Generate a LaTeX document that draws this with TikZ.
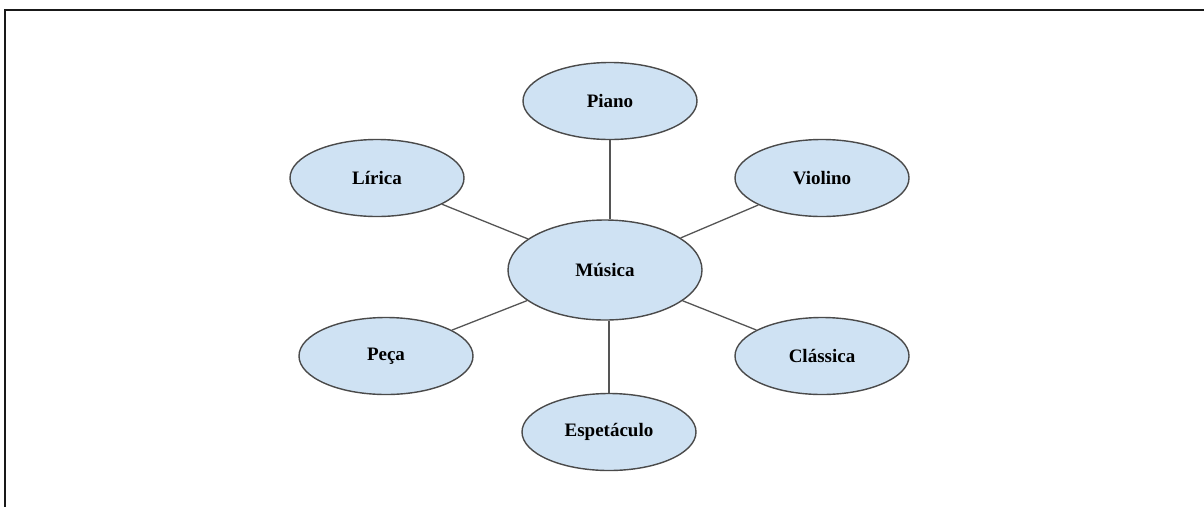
\documentclass[tikz,border=0pt]{standalone}
\usepackage{fontspec}
\setmainfont{Liberation Serif}
\usetikzlibrary{shapes.geometric}
\definecolor{bubblefill}{HTML}{CFE2F3}
\definecolor{bubbleline}{HTML}{4A4A4A}
\definecolor{linkline}{HTML}{555555}
\begin{document}
\begin{tikzpicture}[x=1pt,y=-1pt,
  bubble/.style={ellipse, draw=bubbleline, fill=bubblefill, line width=1.4pt,
    minimum width=174pt, minimum height=77pt, inner sep=0pt,
    font=\fontsize{19pt}{22pt}\selectfont\bfseries, text=black},
  hub/.style={bubble, minimum width=194pt, minimum height=100pt},
  link/.style={draw=linkline, line width=1.3pt}]
  \useasboundingbox (0,0) rectangle (1204,507);
  % frame along the top and left edges
  \draw[line width=2.5pt, black!90] (1204,10) -- (5,10) -- (5,507);
  % central topic
  \node[hub] (musica) at (605,270) {Música};
  % surrounding topics
  \node[bubble] (piano) at (610,101) {Piano};
  \node[bubble] (lirica) at (377,178) {Lírica};
  \node[bubble] (violino) at (822,178) {Violino};
  \node[bubble] (peca) at (386,356) {Peça};
  \node[bubble] (classica) at (822,356) {Clássica};
  \node[bubble] (espetaculo) at (609,432) {Espetáculo};
  % links from the centre (the top and bottom ones run straight up and down)
  \draw[link] (piano.south) -- (piano.south |- musica.north);
  \draw[link] (musica) -- (lirica);
  \draw[link] (musica) -- (violino);
  \draw[link] (musica) -- (peca);
  \draw[link] (musica) -- (classica);
  \draw[link] (espetaculo.north) -- (espetaculo.north |- musica.south);
\end{tikzpicture}
\end{document}
